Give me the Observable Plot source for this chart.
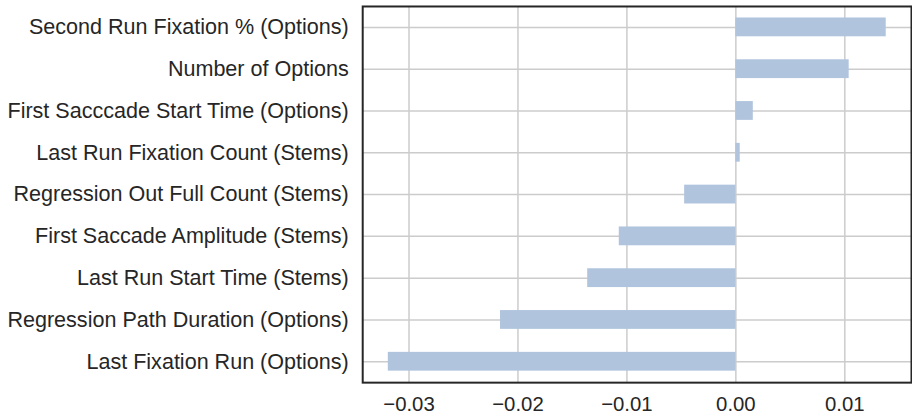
<!DOCTYPE html>
<html><head><meta charset="utf-8">
<script src="https://cdn.jsdelivr.net/npm/d3@7"></script>
<script src="https://cdn.jsdelivr.net/npm/@observablehq/plot@0.6"></script>
<style>
body{margin:0;background:#fff;}
#chart{width:912px;height:416px;overflow:hidden;}
</style></head><body><div id="chart"></div>
<script>
const features = [
  "Second Run Fixation % (Options)",
  "Number of Options",
  "First Sacccade Start Time (Options)",
  "Last Run Fixation Count (Stems)",
  "Regression Out Full Count (Stems)",
  "First Saccade Amplitude (Stems)",
  "Last Run Start Time (Stems)",
  "Regression Path Duration (Options)",
  "Last Fixation Run (Options)"
];
const importance = [0.0138, 0.0104, 0.0016, 0.0004, -0.0047, -0.0107, -0.0136, -0.0216, -0.0319];
const xTicks = [-0.03, -0.02, -0.01, 0.0, 0.01];

const data = features.map((f, i) => ({feature: f, value: importance[i]}));
const fmt = d3.format(".2f");

const chart = Plot.plot({
  width: 914, height: 416,
  marginLeft: 363, marginRight: 1, marginTop: 6, marginBottom: 33,
  style: {fontFamily: "'Liberation Sans', Arial, sans-serif", fontSize: "21px", color: "#262626", background: "#fff"},
  x: {domain: [-0.03425, 0.01612], label: null},
  y: {domain: features, paddingInner: 0.55, paddingOuter: 0.275, round: false, label: null},
  marks: [
    Plot.gridX(xTicks, {stroke: "#cccccc", strokeOpacity: 1, strokeWidth: 1.5}),
    Plot.gridY({stroke: "#cccccc", strokeOpacity: 1, strokeWidth: 1.5}),
    Plot.barX(data, {x: "value", y: "feature", fill: "#B0C4DE"}),
    Plot.axisX(xTicks, {tickSize: 0, tickPadding: 14, fontSize: 20.4, tickFormat: fmt, label: null}),
    Plot.axisY({tickSize: 0, tickPadding: 14, fontSize: 21.6, label: null}),
    Plot.frame({stroke: "#262626", strokeWidth: 2})
  ]
});
document.getElementById("chart").appendChild(chart);
</script></body></html>
